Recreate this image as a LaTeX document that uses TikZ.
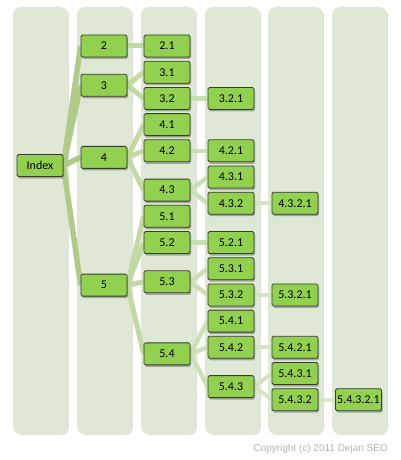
\documentclass[tikz,border=0pt]{standalone}
\usepackage{fontspec}
\setmainfont{Carlito}
\newfontfamily\arialf{Liberation Sans}
\usetikzlibrary{shadows}
\definecolor{colbg}{HTML}{DFE8D4}
\definecolor{nodefill}{HTML}{92D050}
\definecolor{nodeline}{HTML}{333D2A}
\definecolor{ea}{HTML}{AFCB87}
\definecolor{eb}{HTML}{C2D9A4}
\definecolor{ec}{HTML}{CCDFB4}
\definecolor{ed}{HTML}{D4E4C1}
\definecolor{ee}{HTML}{D6E5C4}
\definecolor{copy}{HTML}{B4B4B4}
\pgfdeclarelayer{bg}
\pgfdeclarelayer{edges}
\pgfsetlayers{bg,edges,main}
\begin{document}
\begin{tikzpicture}[x=1pt,y=-1pt,
  colbox/.style={fill=colbg, rounded corners=8pt,
    drop shadow={shadow xshift=1pt,shadow yshift=-1pt,opacity=0.25,fill=black!50}},
  box/.style={draw=nodeline, fill=nodefill, rounded corners=1.5pt,
    minimum width=46pt, minimum height=22pt, inner sep=0pt, line width=0.8pt,
    font=\fontsize{12}{14}\selectfont,
    drop shadow={shadow xshift=1pt,shadow yshift=-2pt,opacity=0.5,fill=black!60}},
  la/.style={draw=ea, line width=5.5pt},
  lb/.style={draw=eb, line width=5pt},
  lc/.style={draw=ec, line width=4.5pt},
  ld/.style={draw=ed, line width=4pt},
  le/.style={draw=ee, line width=4pt}]
\useasboundingbox (0,0) rectangle (400,460);
\begin{pgfonlayer}{bg}
\fill[white] (0,0) rectangle (400,460);
\foreach \cx in {13,77,141,205,268,332}
  \path[colbox] (\cx,7) rectangle ++(55,427);
\end{pgfonlayer}
% column 1
\node[box] (nI) at (40,165.5) {Index};
% column 2
\node[box] (n2) at (104,46) {2};
\node[box] (n3) at (104,85.3) {3};
\node[box] (n4) at (104,157.35) {4};
\node[box] (n5) at (104,285.1) {5};
% column 3
\node[box] (n21) at (167,46) {2.1};
\node[box] (n31) at (167,72.2) {3.1};
\node[box] (n32) at (167,98.4) {3.2};
\node[box] (n41) at (167,124.6) {4.1};
\node[box] (n42) at (167,150.8) {4.2};
\node[box] (n43) at (167,190.1) {4.3};
\node[box] (n51) at (167,216.3) {5.1};
\node[box] (n52) at (167,242.5) {5.2};
\node[box] (n53) at (167,281.8) {5.3};
\node[box] (n54) at (167,353.85) {5.4};
% column 4
\node[box] (n321) at (231,98.4) {3.2.1};
\node[box] (n421) at (231,150.8) {4.2.1};
\node[box] (n431) at (231,177) {4.3.1};
\node[box] (n432) at (231,203.2) {4.3.2};
\node[box] (n521) at (231,242.5) {5.2.1};
\node[box] (n531) at (231,268.7) {5.3.1};
\node[box] (n532) at (231,294.9) {5.3.2};
\node[box] (n541) at (231,321.1) {5.4.1};
\node[box] (n542) at (231,347.3) {5.4.2};
\node[box] (n543) at (231,386.6) {5.4.3};
% column 5
\node[box] (n4321) at (295,203.2) {4.3.2.1};
\node[box] (n5321) at (295,294.9) {5.3.2.1};
\node[box] (n5421) at (295,347.3) {5.4.2.1};
\node[box] (n5431) at (295,373.5) {5.4.3.1};
\node[box] (n5432) at (295,399.7) {5.4.3.2};
% column 6
\node[box] (n54321) at (358.5,399.7) {5.4.3.2.1};
% connectors
\begin{pgfonlayer}{edges}
\foreach \c in {n2,n3,n4,n5} \draw[la] (nI.east) -- (\c.west);
\draw[lb] (n2.east) -- (n21.west);
\foreach \c in {n31,n32} \draw[lb] (n3.east) -- (\c.west);
\foreach \c in {n41,n42,n43} \draw[lb] (n4.east) -- (\c.west);
\foreach \c in {n51,n52,n53,n54} \draw[lb] (n5.east) -- (\c.west);
\draw[lc] (n32.east) -- (n321.west);
\draw[lc] (n42.east) -- (n421.west);
\foreach \c in {n431,n432} \draw[lc] (n43.east) -- (\c.west);
\draw[lc] (n52.east) -- (n521.west);
\foreach \c in {n531,n532} \draw[lc] (n53.east) -- (\c.west);
\foreach \c in {n541,n542,n543} \draw[lc] (n54.east) -- (\c.west);
\draw[ld] (n432.east) -- (n4321.west);
\draw[ld] (n532.east) -- (n5321.west);
\draw[ld] (n542.east) -- (n5421.west);
\foreach \c in {n5431,n5432} \draw[ld] (n543.east) -- (\c.west);
\draw[le] (n5432.east) -- (n54321.west);
\end{pgfonlayer}
\node[anchor=east, inner sep=0pt, text=copy, font=\arialf\fontsize{10}{12}\selectfont] (copyr) at (388,449) {Copyright (c) 2011 Dejan SEO};
\end{tikzpicture}
\end{document}
